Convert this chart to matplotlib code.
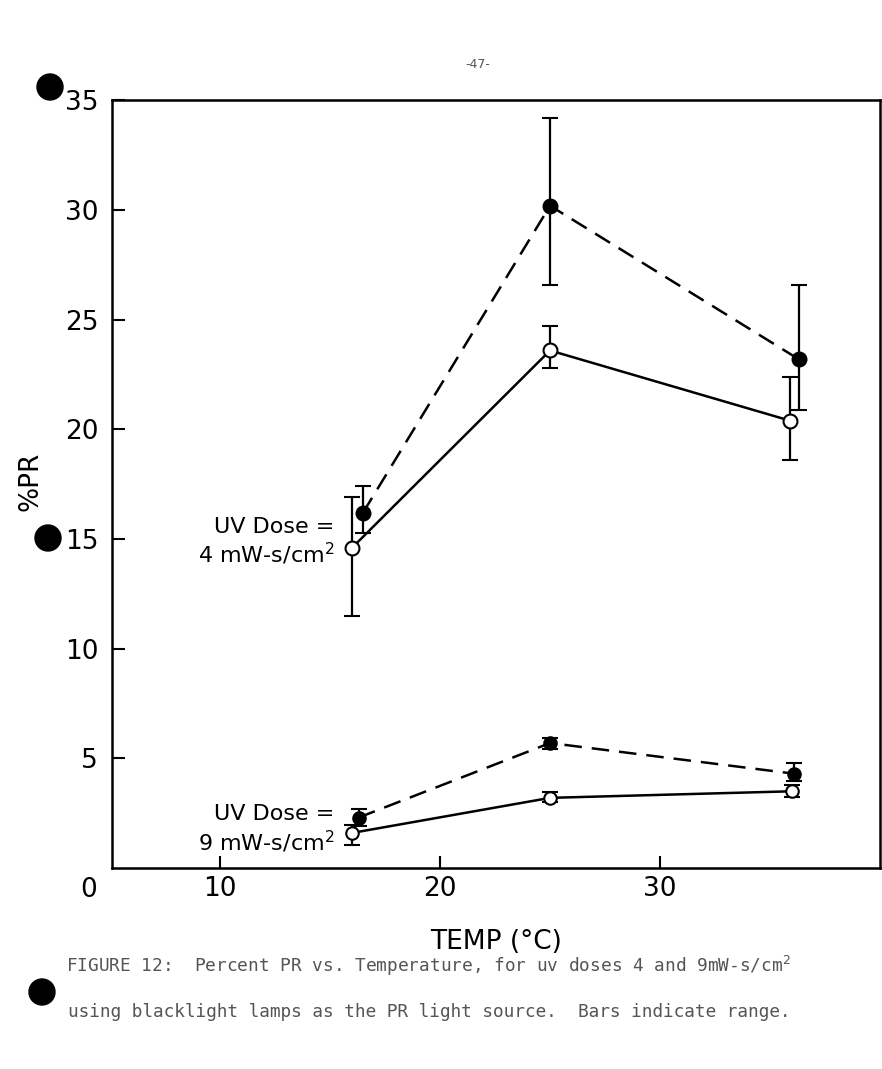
import matplotlib.pyplot as plt
from matplotlib.patches import Ellipse

# upper pair: UV dose 4 mW-s/cm2
hi_filled_x = [16.5, 25.0, 36.3]
hi_filled_y = [16.2, 30.2, 23.2]
hi_filled_lo = [15.3, 26.6, 20.9]
hi_filled_hi = [17.4, 34.2, 26.6]

hi_open_x = [16.0, 25.0, 35.9]
hi_open_y = [14.6, 23.6, 20.4]
hi_open_lo = [11.5, 22.8, 18.6]
hi_open_hi = [16.9, 24.7, 22.4]

# lower pair: UV dose 9 mW-s/cm2
lo_filled_x = [16.3, 25.0, 36.1]
lo_filled_y = [2.3, 5.7, 4.3]
lo_filled_lo = [1.9, 5.45, 3.95]
lo_filled_hi = [2.7, 5.95, 4.8]

lo_open_x = [16.0, 25.0, 36.0]
lo_open_y = [1.6, 3.2, 3.5]
lo_open_lo = [1.05, 3.0, 3.25]
lo_open_hi = [1.95, 3.45, 3.8]

x_ticks = [10, 20, 30]
y_ticks = [5, 10, 15, 20, 25, 30, 35]

fig = plt.figure(figsize=(8.82, 10.69), dpi=100)
ax = fig.add_axes([0.127, 0.188, 0.871, 0.718])


def draw(x, y, lo, hi, filled, dashed, ms):
    yerr = [[v - l for v, l in zip(y, lo)], [h - v for v, h in zip(y, hi)]]
    ax.errorbar(
        x, y, yerr=yerr,
        fmt='o',
        color='black',
        ecolor='black',
        elinewidth=1.6,
        capsize=6,
        capthick=1.6,
        markersize=ms,
        markerfacecolor='black' if filled else 'white',
        markeredgecolor='black',
        markeredgewidth=1.5,
        linestyle=(0, (7, 4)) if dashed else '-',
        linewidth=1.8,
        zorder=3,
    )


draw(hi_open_x, hi_open_y, hi_open_lo, hi_open_hi, False, False, 10)
draw(hi_filled_x, hi_filled_y, hi_filled_lo, hi_filled_hi, True, True, 10)
draw(lo_open_x, lo_open_y, lo_open_lo, lo_open_hi, False, False, 9)
draw(lo_filled_x, lo_filled_y, lo_filled_lo, lo_filled_hi, True, True, 9)

ax.set_xlim(5.1, 40.0)
ax.set_ylim(0, 35)
ax.set_xticks(x_ticks)
ax.set_xticklabels([str(t) for t in x_ticks])
ax.set_yticks(y_ticks)
ax.set_yticklabels([str(t) for t in y_ticks])
ax.tick_params(direction='in', length=9, width=1.5, labelsize=19)
ax.tick_params(axis='x', pad=6)
ax.tick_params(axis='y', pad=10)
for sp in ax.spines.values():
    sp.set_linewidth(1.8)

ax.text(-0.02, -0.012, '0', transform=ax.transAxes, fontsize=19,
        ha='right', va='top')
ax.set_xlabel('TEMP (°C)', fontsize=19, labelpad=19)
fig.text(0.035, 0.55, '%PR', rotation=90, fontsize=19, ha='center', va='center')

ax.text(15.2, 15.1, 'UV Dose =', fontsize=16, ha='right', va='bottom')
ax.text(15.2, 14.9, '4 mW-s/cm$^2$', fontsize=16, ha='right', va='top')
ax.text(15.2, 2.0, 'UV Dose =', fontsize=16, ha='right', va='bottom')
ax.text(15.2, 1.8, '9 mW-s/cm$^2$', fontsize=16, ha='right', va='top')

fig.text(0.542, 0.936, '-47-', fontsize=9, color='#555555', ha='center')

fig.text(0.075, 0.091,
         'FIGURE 12:  Percent PR vs. Temperature, for uv doses 4 and 9mW-s/cm$^2$',
         fontsize=12.8, family='DejaVu Sans Mono', color='#555555')
fig.text(0.077, 0.049,
         'using blacklight lamps as the PR light source.  Bars indicate range.',
         fontsize=12.8, family='DejaVu Sans Mono', color='#555555')

# punch-hole marks from the scanned page
for cx, cy in [(50, 87), (48, 538), (42, 992)]:
    fig.add_artist(Ellipse((cx / 882, 1 - cy / 1069), 26 / 882, 26 / 1069,
                           transform=fig.transFigure, color='black'))

fig.savefig('out.png', dpi=100)
